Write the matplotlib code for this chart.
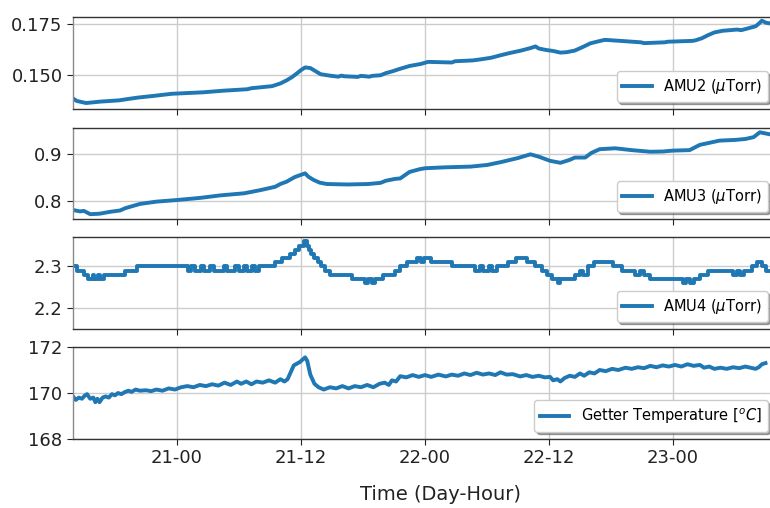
import matplotlib
matplotlib.use("Agg")
import matplotlib.pyplot as plt
from matplotlib.ticker import MultipleLocator, FuncFormatter

# Time axis in hours counted from day 20, 00:00
amu2_t = [13.94, 14.3, 15.2, 16.6, 18.4, 19.3, 20.3, 21.8, 23.5, 26.5, 28.5, 30.8,
          31.2, 31.8, 33.2, 34.0, 34.6, 35.1, 35.5, 36.0, 36.4, 36.9, 37.4, 37.9,
          38.8, 39.6, 39.9, 40.2, 41.5, 41.8, 42.6, 42.9, 43.7, 44.2, 44.9, 45.5,
          46.5, 47.6, 48.3, 50.6, 50.9, 52.6, 53.5, 54.4, 55.3, 56.2, 57.3, 58.2,
          58.7, 59.0, 59.8, 60.4, 61.1, 61.7, 62.5, 63.3, 64.0, 64.8, 65.4, 66.9,
          68.9, 69.2, 71.2, 71.5, 73.9, 74.2, 74.8, 75.4, 76.0, 76.8, 78.2, 78.6,
          79.2, 80.0, 80.4, 80.6, 81.0, 81.4]
amu2_v = [0.1387, 0.1375, 0.1365, 0.1372, 0.1378, 0.1385, 0.1392, 0.1400, 0.1410, 0.1417, 0.1425, 0.1432,
          0.1437, 0.1440, 0.1447, 0.1460, 0.1475, 0.1490, 0.1505, 0.1525, 0.1538, 0.1535, 0.1520, 0.1505,
          0.1498, 0.1493, 0.1498, 0.1495, 0.1492, 0.1497, 0.1493, 0.1497, 0.1500, 0.1510, 0.1520, 0.1530,
          0.1545, 0.1555, 0.1565, 0.1562, 0.1568, 0.1572, 0.1578, 0.1585, 0.1597, 0.1608, 0.1620, 0.1632,
          0.1640, 0.1630, 0.1622, 0.1618, 0.1610, 0.1612, 0.1620, 0.1638, 0.1655, 0.1665, 0.1672, 0.1667,
          0.1660, 0.1656, 0.1660, 0.1663, 0.1667, 0.1670, 0.1680, 0.1695, 0.1708, 0.1716, 0.1722, 0.1719,
          0.1727, 0.1738, 0.1755, 0.1765, 0.1755, 0.1752]

amu3_t = [13.94, 14.6, 15.0, 15.6, 16.5, 17.5, 18.5, 19.0, 20.4, 22.0, 24.0, 26.2,
          28.2, 30.5, 32.0, 33.5, 34.0, 34.6, 35.4, 35.9, 36.4, 36.7, 37.2, 37.8,
          38.5, 40.5, 42.5, 43.7, 44.2, 45.1, 45.6, 46.5, 47.5, 48.0, 50.0, 52.4,
          54.0, 55.3, 57.0, 58.2, 59.0, 60.1, 61.1, 62.0, 62.5, 63.5, 64.1, 64.9,
          66.4, 68.0, 69.8, 71.0, 72.0, 73.6, 74.6, 76.5, 78.0, 79.0, 79.8, 80.4, 81.4]
amu3_v = [0.780, 0.777, 0.778, 0.771, 0.772, 0.776, 0.779, 0.784, 0.793, 0.798, 0.8015, 0.806,
          0.8115, 0.816, 0.8225, 0.830, 0.836, 0.841, 0.851, 0.855, 0.859, 0.852, 0.845, 0.839,
          0.836, 0.835, 0.836, 0.8385, 0.843, 0.847, 0.848, 0.862, 0.868, 0.870, 0.872, 0.8735,
          0.877, 0.883, 0.892, 0.900, 0.895, 0.886, 0.8817, 0.888, 0.893, 0.893, 0.903, 0.911,
          0.913, 0.909, 0.9055, 0.906, 0.908, 0.909, 0.9204, 0.9295, 0.931, 0.933, 0.937, 0.9474, 0.943]

amu4_t = [13.94, 14.3, 15.0, 15.4, 15.9, 16.0, 16.4, 16.5, 16.9, 18.97, 20.13,
          25.1, 25.4, 25.7, 26.3, 26.6, 27.2, 27.6, 28.5, 28.8, 29.6, 30.0, 30.5, 30.8, 31.3, 31.5, 31.9,
          33.5, 34.2, 34.9, 35.4, 35.8, 36.3, 36.6, 36.8, 37.0, 37.3, 37.6, 37.9, 38.3, 38.8,
          40.9, 42.2, 42.5, 42.9, 43.2, 43.9, 45.1, 45.6, 46.3, 47.2, 47.6, 47.9, 48.6,
          50.6, 52.8, 53.3, 53.6, 54.2, 54.5, 55.0, 55.3, 56.0, 56.8, 57.9, 58.6, 59.3,
          59.8, 60.3, 60.9, 61.1, 62.5, 63.0, 63.3, 63.8, 64.4, 66.2, 67.1, 68.3, 68.8,
          69.2, 69.8, 73.0, 73.3, 73.6, 74.0, 74.6, 75.4, 77.8, 78.2, 78.5, 78.9, 79.6,
          80.1, 80.6, 81.0, 81.4]
amu4_v = [2.30, 2.29, 2.28, 2.27, 2.28, 2.27, 2.28, 2.27, 2.28, 2.29, 2.30,
          2.29, 2.30, 2.29, 2.30, 2.29, 2.30, 2.29, 2.30, 2.29, 2.30, 2.29, 2.30, 2.29, 2.30, 2.29, 2.30,
          2.31, 2.32, 2.33, 2.34, 2.35, 2.36, 2.35, 2.34, 2.33, 2.32, 2.31, 2.30, 2.29, 2.28,
          2.27, 2.26, 2.27, 2.26, 2.27, 2.28, 2.29, 2.30, 2.31, 2.32, 2.31, 2.32, 2.31,
          2.30, 2.29, 2.30, 2.29, 2.30, 2.29, 2.30, 2.30, 2.31, 2.32, 2.31, 2.30, 2.29,
          2.28, 2.27, 2.26, 2.27, 2.28, 2.29, 2.28, 2.30, 2.31, 2.30, 2.29, 2.28, 2.29,
          2.28, 2.27, 2.26, 2.27, 2.26, 2.27, 2.28, 2.29, 2.28, 2.29, 2.28, 2.29, 2.30,
          2.31, 2.30, 2.29, 2.29]

getter_t = [13.94, 14.2, 14.5, 14.8, 15.1, 15.3, 15.6, 15.9, 16.1, 16.3, 16.5, 16.8,
            17.1, 17.4, 17.7, 18.0, 18.3, 18.6, 19.0, 19.3, 19.6, 20.0, 20.4, 21.0,
            21.5, 22.0, 22.6, 23.2, 23.8, 24.4, 25.0, 25.6, 26.2, 26.8, 27.4, 28.0,
            28.6, 29.2, 29.8, 30.2, 30.7, 31.2, 31.7, 32.3, 32.9, 33.5, 34.0, 34.4,
            34.7, 35.0, 35.3, 35.9, 36.4, 36.6, 36.9, 37.3, 37.7, 38.2, 38.8, 39.4,
            40.0, 40.6, 41.2, 41.8, 42.4, 43.0, 43.6, 44.1, 44.5, 44.8, 45.2, 45.6,
            46.2, 46.8, 47.4, 48.0, 48.6, 49.3, 50.0, 50.6, 51.2, 51.8, 52.4, 53.0,
            53.6, 54.2, 54.8, 55.3, 55.9, 56.5, 57.2, 57.8, 58.4, 59.0, 59.6, 60.1,
            60.4, 60.8, 61.1, 61.5, 62.0, 62.5, 63.0, 63.4, 63.9, 64.4, 64.9, 65.5,
            66.1, 66.7, 67.4, 68.0, 68.6, 69.2, 69.8, 70.4, 71.0, 71.6, 72.2, 72.8,
            73.4, 74.0, 74.6, 75.0, 75.5, 76.0, 76.6, 77.2, 77.8, 78.4, 79.0, 79.5,
            80.0, 80.3, 80.6, 80.95]
getter_v = [169.85, 169.7, 169.8, 169.75, 169.9, 169.95, 169.75, 169.8, 169.6, 169.75, 169.6, 169.8,
            169.85, 169.8, 169.95, 169.9, 170.0, 169.95, 170.05, 170.1, 170.05, 170.15, 170.1, 170.12,
            170.08, 170.15, 170.1, 170.2, 170.15, 170.25, 170.3, 170.25, 170.35, 170.3, 170.38, 170.32,
            170.45, 170.35, 170.5, 170.4, 170.5, 170.38, 170.5, 170.45, 170.55, 170.45, 170.6, 170.5,
            170.6, 170.9, 171.2, 171.35, 171.55, 171.4, 170.8, 170.4, 170.25, 170.15, 170.25, 170.2,
            170.3, 170.2, 170.3, 170.25, 170.35, 170.25, 170.4, 170.45, 170.35, 170.55, 170.5, 170.73,
            170.68, 170.78, 170.7, 170.78, 170.7, 170.8, 170.72, 170.8, 170.75, 170.85, 170.78, 170.88,
            170.8, 170.85, 170.78, 170.9, 170.8, 170.82, 170.72, 170.78, 170.7, 170.75, 170.68, 170.7,
            170.55, 170.6, 170.5, 170.65, 170.75, 170.7, 170.85, 170.75, 170.9, 170.85, 171.0, 170.95,
            171.05, 171.0, 171.1, 171.05, 171.12, 171.08, 171.18, 171.12, 171.2, 171.15, 171.22, 171.15,
            171.25, 171.18, 171.22, 171.1, 171.15, 171.05, 171.1, 171.05, 171.12, 171.08, 171.15, 171.1,
            171.05, 171.12, 171.25, 171.3]

labels = [r"AMU2 ($\mu$Torr)", r"AMU3 ($\mu$Torr)", r"AMU4 ($\mu$Torr)",
          r"Getter Temperature [$^{o}C$]"]

W, H = 770, 508
fig = plt.figure(figsize=(W / 100, H / 100), dpi=100)

panels = [(17, 109), (128, 219), (237, 329), (347, 439)]
left_px, right_px = 73, 775
color = "#1f77b4"

series = [(amu2_t, amu2_v, "default"), (amu3_t, amu3_v, "default"),
          (amu4_t, amu4_v, "steps-post"), (getter_t, getter_v, "default")]
ylims = [(0.1336, 0.1783), (0.7606, 0.9567), (2.1496, 2.3705), (168, 172)]
ysteps = [0.025, 0.1, 0.1, 2]


def day_hour(h, pos):
    return f"{20 + int(h // 24)}-{int(round(h % 24)):02d}"


for i, ((top, bot), (t, v, ds), yl, ys, lab) in enumerate(
        zip(panels, series, ylims, ysteps, labels)):
    ax = fig.add_axes([left_px / W, 1 - bot / H, (right_px - left_px) / W, (bot - top) / H])
    ax.plot(t, v, color=color, lw=2.8, drawstyle=ds, label=lab)
    ax.set_xlim(13.935, 81.87)
    ax.set_ylim(*yl)
    ax.xaxis.set_major_locator(MultipleLocator(12))
    ax.yaxis.set_major_locator(MultipleLocator(ys))
    ax.grid(True, color="#cccccc", lw=1.0)
    ax.set_axisbelow(True)
    for s in ax.spines.values():
        s.set_color("#333333")
        s.set_linewidth(1.0)
    ax.spines["left"].set_color("#8a8a8a")
    ax.tick_params(axis="both", labelsize=13, colors="#222222", length=4, width=0.8)
    if i < 3:
        ax.tick_params(axis="x", labelbottom=False)
    else:
        ax.xaxis.set_major_formatter(FuncFormatter(day_hour))
    if i == 0:
        ax.yaxis.set_major_formatter(FuncFormatter(lambda y, p: f"{y:.3f}"))
    elif i < 3:
        ax.yaxis.set_major_formatter(FuncFormatter(lambda y, p: f"{y:.1f}"))
    else:
        ax.yaxis.set_major_formatter(FuncFormatter(lambda y, p: f"{y:.0f}"))
    leg = ax.legend(loc="lower right", fontsize=10.5, shadow=True, fancybox=True,
                    framealpha=1.0, borderaxespad=0.5)
    leg.get_frame().set_edgecolor("#cccccc")

fig.text(440 / W, 1 - 495 / H, "Time (Day-Hour)", ha="center", va="center",
         fontsize=14, color="#222222")

fig.savefig("out.png", dpi=100)
